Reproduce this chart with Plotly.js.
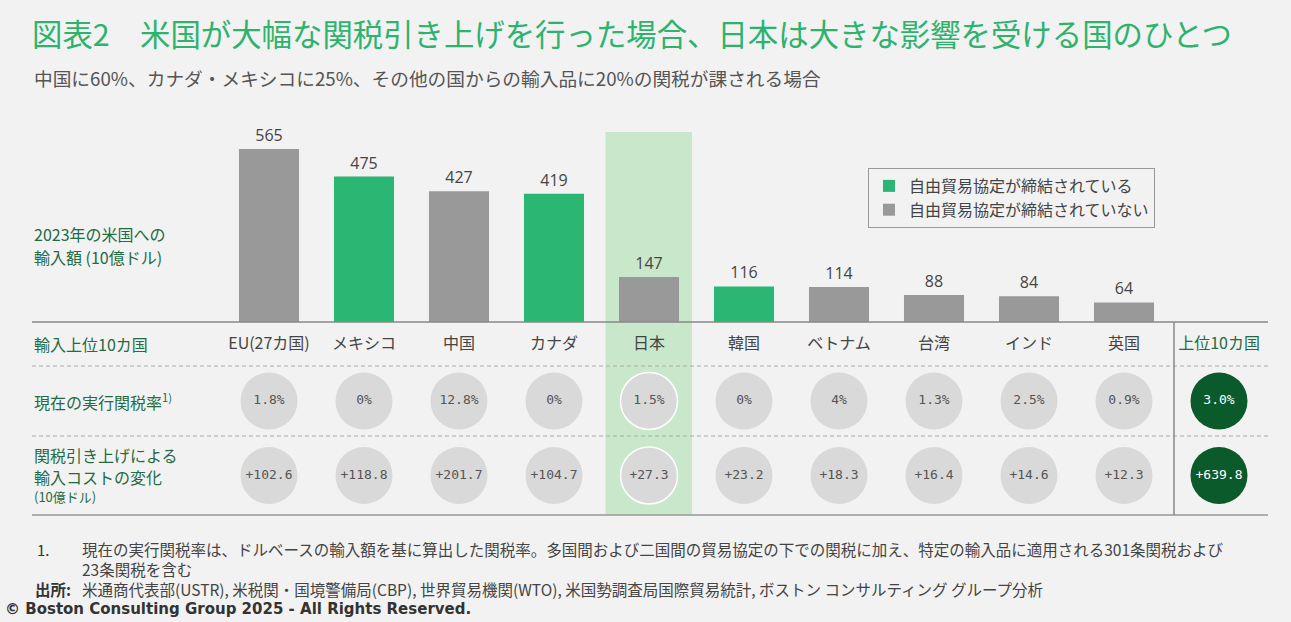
<!DOCTYPE html>
<html>
<head>
<meta charset="utf-8">
<script src="https://cdn.plot.ly/plotly-3.0.1.min.js"></script>
<style>
html,body{margin:0;padding:0;background:#f2f2f2;}
#chart{width:1291px;height:622px;}
</style>
</head>
<body>
<div id="chart"></div>
<script>
// ---- data ----
const countries = ["EU(27カ国)", "メキシコ", "中国", "カナダ", "日本", "韓国", "ベトナム", "台湾", "インド", "英国"];
const imports2023 = [565, 475, 427, 419, 147, 116, 114, 88, 84, 64];
const hasFTA = [false, true, false, true, false, true, false, false, false, false];
const tariffRateLabels = ["1.8%", "0%", "12.8%", "0%", "1.5%", "0%", "4%", "1.3%", "2.5%", "0.9%"];
const costChangeLabels = ["+102.6", "+118.8", "+201.7", "+104.7", "+27.3", "+23.2", "+18.3", "+16.4", "+14.6", "+12.3"];
const totalLabel = "上位10カ国";
const totalTariffLabel = "3.0%";
const totalCostLabel = "+639.8";
const legendNames = ["自由貿易協定が締結されている", "自由貿易協定が締結されていない"];
const highlightCountry = "日本";

// ---- style ----
const W = 1291, H = 622;
const GREEN = "#2bb673", GRAY = "#999999", DARK = "#0b5a2c", LABEL_GREEN = "#236b43";
const CJK = "'Noto Sans CJK JP', 'Noto Sans', sans-serif";
const py = p => (H - p) / H;   // pixel-from-top -> paper fraction
const px = p => p / W;

const idx = countries.map((c, i) => i);
const totalIdx = countries.length;

const ftaX = [], ftaY = [], ftaT = [], noX = [], noY = [], noT = [];
idx.forEach(i => {
  if (hasFTA[i]) { ftaX.push(i); ftaY.push(imports2023[i]); ftaT.push(String(imports2023[i])); }
  else { noX.push(i); noY.push(imports2023[i]); noT.push(String(imports2023[i])); }
});

const barCommon = {
  type: "bar", width: 0.632, textposition: "outside", cliponaxis: false,
  textfont: {family: "'Open Sans', sans-serif", size: 16, color: "#444"},
  hoverinfo: "skip", xaxis: "x", yaxis: "y"
};
const traces = [
  Object.assign({}, barCommon, {x: ftaX, y: ftaY, text: ftaT, name: legendNames[0], marker: {color: GREEN}}),
  Object.assign({}, barCommon, {x: noX, y: noY, text: noT, name: legendNames[1], marker: {color: GRAY}})
];

const jp = countries.indexOf(highlightCountry);
const circX = idx.concat([totalIdx]);
const circColors = idx.map(() => "#d9d9d9").concat([DARK]);
const circLine = idx.map(i => i === jp ? "#ffffff" : "rgba(0,0,0,0)").concat(["rgba(0,0,0,0)"]);
const circTextCol = idx.map(() => "#555").concat(["#ffffff"]);
function circleRow(labels, yv) {
  return {
    type: "scatter", mode: "markers+text", xaxis: "x", yaxis: "y2",
    x: circX, y: circX.map(() => yv), text: labels, textposition: "middle center",
    textfont: {family: "'DejaVu Sans Mono', monospace", size: 13, color: circTextCol},
    marker: {size: 57, color: circColors, line: {color: circLine, width: 1.5}},
    showlegend: false, hoverinfo: "skip", cliponaxis: false
  };
}
traces.push(circleRow(tariffRateLabels.concat([totalTariffLabel]), -79));
traces.push(circleRow(costChangeLabels.concat([totalCostLabel]), -153.5));

const x0px = 269, step = 95;
const xr = [(0 - x0px) / step, (W - x0px) / step];
const dx = p => (p - x0px) / step;

const tickText = countries.map(c => c).concat(["<span style='color:" + LABEL_GREEN + "'>" + totalLabel + "</span>"]);

const shapes = [
  {type: "rect", xref: "x", yref: "paper", x0: dx(605.5), x1: dx(692), y0: py(515), y1: py(132),
   fillcolor: "#c9e8cb", line: {width: 0}, layer: "below"},
  {type: "line", xref: "paper", yref: "paper", x0: px(32), x1: px(1268), y0: py(322), y1: py(322), line: {color: "#888", width: 1.5}},
  {type: "line", xref: "paper", yref: "paper", x0: px(32), x1: px(1268), y0: py(366), y1: py(366), line: {color: "#aaa", width: 1.2, dash: "4px,3px"}},
  {type: "line", xref: "paper", yref: "paper", x0: px(32), x1: px(1268), y0: py(436), y1: py(436), line: {color: "#aaa", width: 1.2, dash: "4px,3px"}},
  {type: "line", xref: "paper", yref: "paper", x0: px(32), x1: px(1268), y0: py(515), y1: py(515), line: {color: "#999", width: 1.5}},
  {type: "line", xref: "x", yref: "paper", x0: dx(1174), x1: dx(1174), y0: py(515), y1: py(322), line: {color: "#888", width: 1.5}}
];

function ann(text, xp, yp, size, color, extra) {
  return Object.assign({text: text, xref: "paper", yref: "paper", x: px(xp), y: py(yp),
    xanchor: "left", yanchor: "middle", showarrow: false, align: "left",
    font: {family: CJK, size: size, color: color}}, extra || {});
}
const annotations = [
  ann("中国に60%、カナダ・メキシコに25%、その他の国からの輸入品に20%の関税が課される場合", 32, 78, 18.7, "#555"),
  ann("2023年の米国への", 32, 234, 16, LABEL_GREEN),
  ann("輸入額 (10億ドル)", 32, 257, 16, LABEL_GREEN),
  ann("輸入上位10カ国", 32, 344, 16, LABEL_GREEN),
  ann("現在の実行関税率<sup>1)</sup>", 32, 401, 16, LABEL_GREEN),
  ann("関税引き上げによる", 32, 455, 16, LABEL_GREEN),
  ann("輸入コストの変化", 32, 477, 16, LABEL_GREEN),
  ann("(10億ドル)", 32, 496, 13, LABEL_GREEN),
  ann("1.", 35, 549, 15, "#333"),
  ann("現在の実行関税率は、ドルベースの輸入額を基に算出した関税率。多国間および二国間の貿易協定の下での関税に加え、特定の輸入品に適用される301条関税および<br>23条関税を含む", 80, 559, 15.5, "#444"),
  ann("<b>出所:</b>", 33, 589, 15.5, "#333"),
  ann("米通商代表部(USTR), 米税関・国境警備局(CBP), 世界貿易機関(WTO), 米国勢調査局国際貿易統計, ボストン コンサルティング グループ分析", 80, 589, 15.5, "#444"),
  ann("<b>© Boston Consulting Group 2025 - All Rights Reserved.</b>", 3, 609, 15, "#333", {font: {family: "'DejaVu Sans', sans-serif", size: 15, color: "#333"}})
];

const layout = {
  width: W, height: H,
  margin: {l: 0, r: 0, t: 0, b: 0, pad: 0},
  paper_bgcolor: "#f2f2f2", plot_bgcolor: "rgba(0,0,0,0)",
  barmode: "overlay",
  title: {text: "図表2　米国が大幅な関税引き上げを行った場合、日本は大きな影響を受ける国のひとつ",
    x: px(32), xanchor: "left", xref: "paper", y: py(35), yanchor: "middle", yref: "paper",
    font: {family: CJK, size: 30.4, color: "#2db36e"}},
  xaxis: {domain: [0, 1], range: xr, anchor: "y", showgrid: false, zeroline: false, showline: false,
    tickvals: circX, ticktext: tickText, ticks: "", ticklabelstandoff: 10,
    tickfont: {family: CJK, size: 16, color: "#444"}, fixedrange: true},
  yaxis: {domain: [py(322), 1], range: [0, 322 / (173 / 565)], visible: false, fixedrange: true},
  yaxis2: {domain: [0, py(322)], range: [-300, 0], anchor: "x", visible: false, fixedrange: true},
  legend: {x: px(868), y: py(168), xanchor: "left", yanchor: "top", bgcolor: "rgba(0,0,0,0)",
    bordercolor: "#999", borderwidth: 1, font: {family: CJK, size: 16, color: "#444"}, traceorder: "normal"},
  shapes: shapes, annotations: annotations,
  showlegend: true
};

Plotly.newPlot("chart", traces, layout, {staticPlot: true, displayModeBar: false});
</script>
</body>
</html>
